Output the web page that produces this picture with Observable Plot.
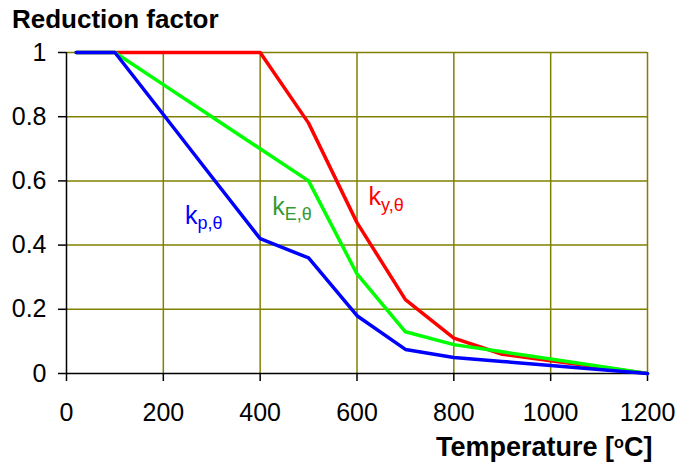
<!DOCTYPE html>
<html><head><meta charset="utf-8">
<script src="https://cdn.jsdelivr.net/npm/d3@7"></script>
<script src="https://cdn.jsdelivr.net/npm/@observablehq/plot@0.6"></script>
<style>
body{margin:0;background:#fff;font-family:"Liberation Sans",Arial,sans-serif}
#wrap{position:relative;width:679px;height:466px;overflow:hidden}
.ov{position:absolute;white-space:nowrap}
.sub{position:relative;top:0.3em;font-size:0.72em}
</style></head><body><div id="wrap"></div>
<script>
const temps = [20, 100, 200, 300, 400, 500, 600, 700, 800, 900, 1000, 1100, 1200];
const ky = [1, 1, 1, 1, 1, 0.78, 0.47, 0.23, 0.11, 0.06, 0.04, 0.02, 0];
const kE = [1, 1, 0.9, 0.8, 0.7, 0.6, 0.31, 0.13, 0.09, 0.0675, 0.045, 0.0225, 0];
const kp = [1, 1, 0.807, 0.613, 0.42, 0.36, 0.18, 0.075, 0.05, 0.0375, 0.025, 0.0125, 0];
const xTicks = [0, 200, 400, 600, 800, 1000, 1200];
const yTicks = [0, 0.2, 0.4, 0.6, 0.8, 1];
const seriesKeys = ["ky", "kE", "kp"];
const seriesColors = ["#ff0000", "#00ff00", "#0000ff"];
const labels = [
  {main: "k", sub: "y,θ", t: 625, v: 0.523, color: "#ff0000"},
  {main: "k", sub: "E,θ", t: 426, v: 0.492, color: "#339933"},
  {main: "k", sub: "p,θ", t: 246, v: 0.464, color: "#0000ff"}
];
const seriesValues = {ky, kE, kp};
const rows = seriesKeys.flatMap(s => temps.map((t, i) => ({t, v: seriesValues[s][i], s})));

const plot = Plot.plot({
  width: 679, height: 466,
  marginLeft: 66, marginRight: 32, marginTop: 52, marginBottom: 93,
  style: {fontFamily: "'Liberation Sans', Arial, sans-serif", fontSize: "25px", background: "transparent", overflow: "visible"},
  x: {domain: [0, 1200]},
  y: {domain: [0, 1]},
  color: {domain: seriesKeys, range: seriesColors},
  marks: [
    Plot.ruleX(xTicks.filter(d => d > 0), {stroke: "#808000", strokeWidth: 1.5}),
    Plot.ruleY(yTicks.filter(d => d > 0), {stroke: "#808000", strokeWidth: 1.5}),
    Plot.axisX(xTicks, {tickSize: 8, tickPadding: 22, label: null, fontSize: 25, strokeWidth: 1.5, tickFormat: d => String(d)}),
    Plot.axisY(yTicks, {tickSize: 8, tickPadding: 12, label: null, fontSize: 25, strokeWidth: 1.5, tickFormat: d => String(+d.toFixed(1))}),
    Plot.ruleX([0], {stroke: "#000", strokeWidth: 1.5}),
    Plot.ruleY([0], {stroke: "#000", strokeWidth: 1.5}),
    Plot.line(rows, {x: "t", y: "v", z: "s", stroke: "s", strokeWidth: 3.5})
  ]
});
const wrap = document.getElementById("wrap");
plot.style.position = "absolute";
plot.style.left = "0px";
plot.style.top = "0px";
wrap.appendChild(plot);

const title = document.createElement("div");
title.className = "ov";
title.style.cssText = "left:12px;top:6px;font-size:26px;line-height:26px;font-weight:bold;color:#000";
title.textContent = "Reduction factor";
wrap.appendChild(title);

const xl = document.createElement("div");
xl.className = "ov";
xl.style.cssText = "left:436px;top:434px;font-size:27px;line-height:27px;font-weight:bold;color:#000";
xl.innerHTML = 'Temperature [<span style="position:relative;top:-0.5em;font-size:0.6em">o</span>C]';
wrap.appendChild(xl);

const sx = plot.scale("x"), sy = plot.scale("y");
for (const l of labels) {
  const d = document.createElement("div");
  d.className = "ov";
  const px = sx.apply(l.t), py = sy.apply(l.v);
  d.style.cssText = `left:${px}px;top:${py - 21}px;font-size:25px;line-height:25px;color:${l.color}`;
  d.innerHTML = `${l.main}<span class="sub">${l.sub}</span>`;
  wrap.appendChild(d);
}
</script></body></html>
